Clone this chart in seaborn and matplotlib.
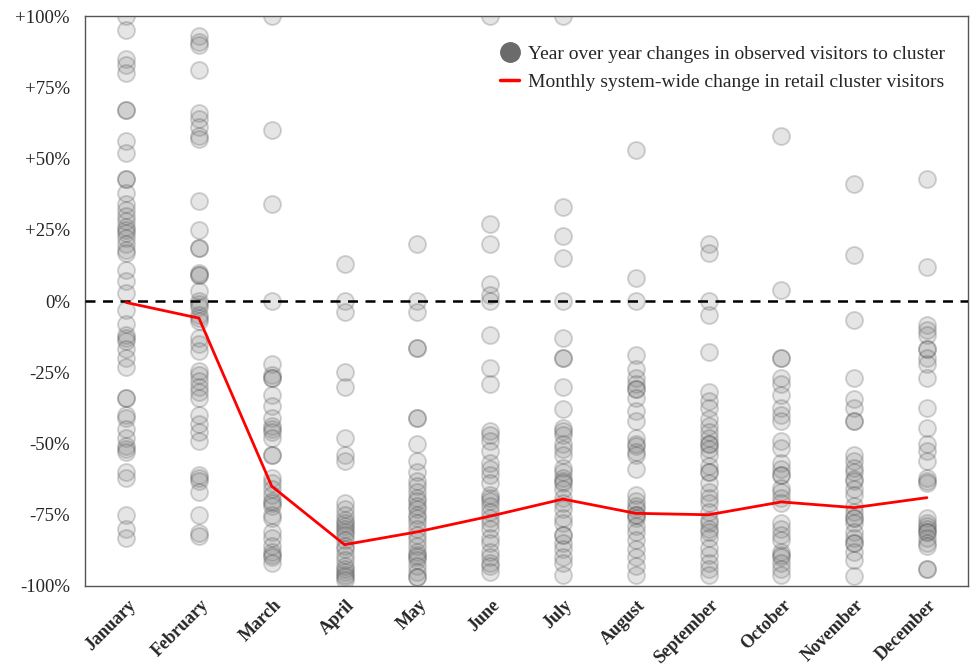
import numpy as np
import pandas as pd
import matplotlib
matplotlib.use("Agg")
import matplotlib.pyplot as plt
import matplotlib.transforms as mtransforms
from matplotlib.lines import Line2D
import seaborn as sns

months = ["January", "February", "March", "April", "May", "June", "July",
          "August", "September", "October", "November", "December"]

# Year-over-year change (%) in observed visitors, one value per cluster
jan_changes = [100, 95, 85, 83, 80, 67, 67, 56, 52, 43, 43, 38, 34, 32, 30, 28, 26, 25, 24,
               22, 20, 18, 17, 11, 7, 3, -3, -8, -12, -13, -14, -17, -20, -23, -34, -34,
               -40, -41, -45, -48, -51, -52, -53, -60, -62, -75, -80, -83]
feb_changes = [93, 91, 90, 81, 66, 64, 61, 58, 57, 35, 25, 18.6, 18.6, 10, 9, 9, 3.5, 0, -1,
               -2, -5, -6, -7, -13, -15, -17.5, -24.5, -26, -28, -30, -32, -34, -40, -43,
               -46, -49, -61, -62, -63, -67, -75, -81.5, -82.5]
mar_changes = [100, 60, 34, 0, -22, -26, -27, -27, -33, -37, -41, -44, -45, -46, -48, -54,
               -54, -62, -64, -66, -68, -70, -71, -72, -75, -76, -81, -83, -86, -88, -89,
               -90, -92]
apr_changes = [13, 0, -4, -25, -30, -48, -54, -56, -71, -73, -75, -77, -78, -79, -80, -81,
               -82, -84, -86, -87, -89, -91, -93, -94, -95, -96, -97, -98]
may_changes = [20, 0, -4, -16.5, -16.5, -41, -41, -50, -56, -60, -63, -65, -67, -69, -70,
               -72, -73, -75, -76, -78, -80, -82, -84, -86, -88, -89, -90, -91, -93, -95,
               -97, -97]
jun_changes = [100, 27, 20, 6, 2, 0, -12, -23.5, -29, -45.5, -47, -49, -52.5, -57, -59, -61,
               -64, -68, -69, -70, -72, -74, -76, -78, -80, -83, -85, -88, -90, -92, -93, -95]
jul_changes = [100, 33, 23, 15, 0, -13, -20, -20, -30, -38, -44.5, -45.5, -47, -50, -52, -54,
               -58.5, -60, -62, -63, -64, -66, -69, -71, -73, -76, -78, -82, -82, -85, -87,
               -90, -92, -96]
aug_changes = [53, 8, 0, -19, -24, -27, -29, -31, -31, -34, -38.5, -42, -48, -50, -51, -53,
               -54, -59, -68, -70, -72, -73, -75, -75, -76, -79, -81, -84, -87, -90, -93, -96]
sep_changes = [20, 17, 0, -5, -18, -32, -35, -37.5, -41.5, -44, -46, -48, -50, -50, -52, -54,
               -58, -60, -60, -64, -67, -69, -71, -74, -77, -78, -80, -81, -83, -86.6, -89,
               -92, -94, -96]
oct_changes = [58, 4, -20, -20, -27, -29, -33, -37.5, -40, -42, -49, -51.5, -57, -59, -61,
               -61, -65.5, -67, -69, -71, -78, -80, -82, -84, -88, -89, -90, -92, -94, -96]
nov_changes = [41, 16, -6.5, -27, -34.5, -37.5, -42, -42, -54, -56, -58.6, -60, -62.6, -63,
               -66, -68, -72, -74, -76, -76, -78, -81, -83, -85, -85, -88, -91, -96.5]
dec_changes = [43, 12, -8.5, -10, -12, -17, -17, -20, -22, -27, -37.5, -44.5, -50, -52.5,
               -56, -62, -63, -64, -76, -78, -79, -80, -81, -81, -83, -85, -86, -94, -94]

# Monthly system-wide change (%) in retail cluster visitors
system_change = [-0.5, -6, -65, -85.5, -81, -75.5, -69.5, -74.5, -75, -70.5, -72.5, -69]

y_ticks = [-100, -75, -50, -25, 0, 25, 50, 75, 100]
y_tick_labels = ["-100%", "-75%", "-50%", "-25%", "0%", "+25%", "+50%", "+75%", "+100%"]

cluster_lists = [jan_changes, feb_changes, mar_changes, apr_changes, may_changes,
                 jun_changes, jul_changes, aug_changes, sep_changes, oct_changes,
                 nov_changes, dec_changes]

clusters = pd.DataFrame(
    [(i, v) for i, vals in enumerate(cluster_lists) for v in vals],
    columns=["month_idx", "change"],
)
system = pd.DataFrame({"month_idx": np.arange(len(months)), "change": system_change})

sns.set_theme(style="white")
plt.rcParams["font.family"] = ["Liberation Serif", "DejaVu Serif"]

fig = plt.figure(figsize=(9.73, 6.72), dpi=100)
ax = fig.add_axes([0.0874, 0.128, 0.9075, 0.848])

sns.scatterplot(data=clusters, x="month_idx", y="change", ax=ax,
                s=150, color="#808080", alpha=0.2, edgecolor="#333333",
                linewidth=1.4, legend=False, zorder=2)
ax.axhline(0, color="black", linestyle=(0, (4, 3)), linewidth=1.8, zorder=3)
sns.lineplot(data=system, x="month_idx", y="change", ax=ax,
             color="#ff0000", linewidth=2.0, legend=False, zorder=4)

ax.set_xlim(-0.565, 11.565)
ax.set_ylim(-100, 100)
ax.tick_params(axis="both", length=0)
ax.tick_params(axis="y", pad=11)
ax.tick_params(axis="x", pad=12)
ax.set_yticks(y_ticks)
ax.set_yticklabels(y_tick_labels, fontsize=13.5)
ax.set_xticks(np.arange(len(months)))
ax.set_xticklabels(months, fontsize=13, fontweight="bold",
                   rotation=45, ha="right", va="center", rotation_mode="anchor")
# nudge the slanted month names a little to the right of their ticks
offset = mtransforms.ScaledTranslation(5 / 72, 0, fig.dpi_scale_trans)
for lbl in ax.get_xticklabels():
    lbl.set_transform(lbl.get_transform() + offset)
ax.set_xlabel("")
ax.set_ylabel("")

for sp in ax.spines.values():
    sp.set_visible(True)
    sp.set_color("#555555")
    sp.set_linewidth(1.0)

handles = [
    Line2D([], [], marker="o", linestyle="none", markersize=14,
           markerfacecolor="#6b6b6b", markeredgecolor="#6b6b6b"),
    Line2D([], [], color="#ff0000", linewidth=2.5),
]
ax.legend(handles, ["Year over year changes in observed visitors to cluster",
                    "Monthly system-wide change in retail cluster visitors"],
          loc="upper right", bbox_to_anchor=(1.007, 1.0), frameon=False,
          fontsize=14, handlelength=1.0, handletextpad=0.45, labelspacing=0.55,
          borderaxespad=1.1)

fig.savefig("out.png", dpi=100)
